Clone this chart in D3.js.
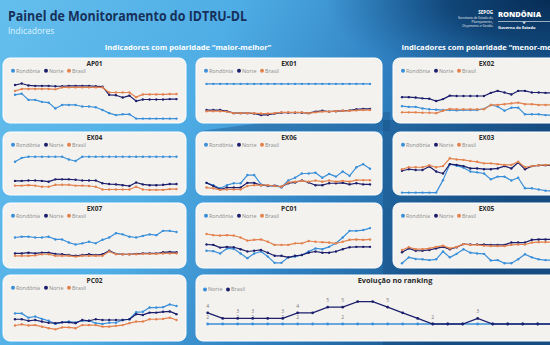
<!DOCTYPE html>
<html>
<head>
<meta charset="utf-8">
<script src="https://cdn.jsdelivr.net/npm/d3@7"></script>
<style>
  html, body { margin: 0; padding: 0; overflow: hidden; }
  body { width: 550px; height: 345px; }
  svg { display: block; font-family: "Open Sans", "DejaVu Sans", sans-serif; }
</style>
</head>
<body>
<svg id="chart" width="550" height="345"></svg>
<script>
// ---- Data ---------------------------------------------------------------
const periods = [1, 2, 3, 4, 5, 6, 7, 8, 9, 10, 11, 12, 13, 14, 15, 16, 17, 18, 19, 20, 21, 22, 23, 24, 25];
const seriesNames = ["Rondônia", "Norte", "Brasil"];
const seriesColors = ["#3a8fd9", "#1d1f6c", "#e3824e"];

// Indicator scores (0–100 index) per period
const ap01Rondonia = [62, 65, 49, 49, 44, 42, 27, 36, 36, 36, 32, 32, 30, 23, 15, 10, 12, 12, 1, 1, 1, 1, 1, 1, 1];
const ap01Norte    = [87, 91, 86, 85, 85, 85, 84, 84, 85, 85, 85, 85, 84, 83, 62, 61, 55, 60, 46, 50, 50, 50, 50, 51, 51];
const ap01Brasil   = [72, 77, 77, 77, 77, 77, 76, 81, 81, 81, 81, 81, 81, 81, 68, 68, 68, 68, 56, 63, 63, 63, 63, 64, 64];

const ex01Rondonia = [90, 90, 90, 90, 90, 90, 90, 90, 90, 90, 90, 90, 90, 90, 90, 90, 90, 90, 90, 90, 90, 90, 90, 90, 90];
const ex01Norte    = [23, 23, 23, 20, 15, 15, 15, 14, 10, 11, 14, 16, 16, 16, 16, 15, 19, 21, 19, 20, 21, 22, 25, 26, 26];
const ex01Brasil   = [20, 20, 20, 19, 15, 15, 15, 15, 14, 14, 15, 17, 17, 17, 17, 15, 17, 19, 19, 20, 21, 21, 22, 23, 23];

const ex02Rondonia = [33, 31, 31, 27, 25, 24, 23, 23, 22, 23, 23, 23, 26, 36, 32, 21, 29, 29, 12, 12, 12, 10, 10, 10, 10];
const ex02Norte    = [56, 56, 55, 53, 52, 46, 51, 60, 59, 59, 59, 59, 59, 67, 72, 68, 63, 72, 72, 68, 68, 67, 67, 67, 67];
const ex02Brasil   = [17, 17, 17, 16, 16, 15, 21, 26, 25, 25, 25, 25, 25, 36, 36, 38, 40, 42, 38, 38, 36, 36, 36, 36, 36];

const ex04Rondonia = [80, 90, 93, 93, 93, 93, 93, 93, 86, 82, 93, 93, 93, 93, 93, 93, 93, 93, 93, 93, 93, 93, 93, 93, 93];
const ex04Norte    = [31, 31, 32, 32, 31, 29, 35, 35, 35, 34, 32, 32, 32, 25, 23, 22, 20, 18, 27, 22, 20, 20, 21, 23, 23];
const ex04Brasil   = [19, 19, 20, 19, 16, 16, 21, 21, 21, 19, 19, 18, 16, 9, 9, 9, 9, 9, 16, 9, 8, 8, 8, 10, 10];

const ex06Rondonia = [26, 20, 12, 20, 25, 25, 46, 46, 22, 18, 19, 14, 32, 39, 50, 50, 52, 39, 49, 42, 55, 44, 66, 74, 62];
const ex06Norte    = [26, 18, 9, 14, 14, 14, 26, 26, 20, 19, 19, 16, 25, 27, 32, 27, 20, 20, 25, 25, 26, 22, 25, 22, 22];
const ex06Brasil   = [14, 12, 8, 9, 9, 9, 18, 20, 20, 20, 18, 16, 27, 29, 31, 29, 32, 29, 32, 29, 31, 29, 33, 33, 33];

const ex03Rondonia = [1, 1, 1, 1, 1, 1, 33, 74, 70, 65, 55, 53, 50, 35, 42, 42, 32, 39, 12, 12, 9, 6, 5, 5, 5];
const ex03Norte    = [57, 61, 59, 59, 68, 55, 50, 74, 72, 69, 63, 63, 61, 61, 63, 69, 63, 78, 61, 69, 71, 71, 71, 71, 71];
const ex03Brasil   = [61, 66, 66, 66, 71, 66, 69, 89, 86, 85, 82, 80, 76, 76, 74, 72, 72, 80, 66, 69, 71, 72, 72, 72, 72];

const ex07Rondonia = [68, 70, 70, 68, 68, 70, 63, 63, 55, 50, 53, 57, 53, 62, 68, 79, 76, 70, 68, 72, 76, 74, 85, 85, 82];
const ex07Norte    = [27, 27, 29, 27, 29, 29, 26, 25, 23, 21, 23, 25, 23, 25, 34, 26, 25, 25, 26, 27, 27, 27, 30, 31, 30];
const ex07Brasil   = [21, 21, 21, 22, 25, 25, 21, 21, 21, 19, 21, 21, 21, 21, 32, 25, 25, 25, 25, 26, 26, 26, 27, 27, 27];

const pc01Rondonia = [34, 33, 27, 40, 39, 27, 15, 27, 32, 19, 3, 3, 17, 19, 23, 32, 40, 38, 44, 53, 68, 85, 85, 87, 92];
const pc01Norte    = [50, 49, 42, 44, 43, 38, 32, 34, 36, 29, 21, 21, 17, 21, 23, 29, 32, 29, 29, 32, 38, 43, 44, 44, 44];
const pc01Brasil   = [77, 74, 73, 74, 73, 68, 60, 62, 63, 57, 49, 49, 49, 53, 53, 59, 57, 56, 55, 53, 57, 62, 63, 62, 63];

const ex05Rondonia = [2, 17, 13, 12, 10, 12, 32, 17, 26, 38, 29, 27, 26, 9, 10, 2, 2, 12, 25, 17, 12, 10, 10, 10, 10];
const ex05Norte    = [30, 40, 34, 34, 36, 40, 44, 38, 43, 51, 50, 50, 50, 49, 49, 49, 55, 55, 55, 62, 63, 63, 63, 63, 63];
const ex05Brasil   = [36, 43, 38, 38, 40, 44, 47, 40, 44, 51, 49, 49, 47, 46, 46, 46, 49, 50, 50, 55, 56, 56, 56, 56, 56];

const pc02Rondonia = [58, 58, 47, 50, 44, 39, 31, 35, 37, 35, 39, 39, 33, 31, 34, 34, 41, 43, 61, 62, 73, 73, 74, 81, 77];
const pc02Norte    = [43, 43, 39, 41, 37, 34, 33, 35, 35, 33, 41, 39, 43, 41, 41, 41, 41, 43, 56, 54, 60, 60, 62, 63, 56];
const pc02Brasil   = [27, 30, 27, 28, 24, 20, 17, 22, 22, 20, 28, 28, 28, 24, 24, 26, 28, 33, 37, 37, 43, 43, 44, 47, 41];

// Ranking evolution
const rankingNames = ["Norte", "Brasil"];
const rankingColors = ["#3a8fd9", "#1d1f6c"];
const rankingNorte  = [2, 2, 2, 2, 2, 2, 2, 2, 2, 2, 2, 2, 2, 2, 2, 2, 2, 2, 2, 2, 2, 2, 2, 2, 2];
const rankingBrasil = [4, 3, 3, 3, 3, 3, 4, 4, 5, 5, 6, 6, 5, 4, 3, 2, 2, 2, 3, 2, 2, 2, 2, 2, 2];
// periods whose value label is shown
const rankingNorteLabels  = [0, 2, 3, 5, 6, 9];
const rankingBrasilLabels = [0, 2, 3, 5, 6, 8, 9, 12, 15, 18];

// ---- Layout -------------------------------------------------------------
const svg = d3.select("#chart");
const W = 550, H = 345;

const colLeft  = [3, 196, 393];
const colWidth = [183, 186, 187];
const colPlotX = [[15, 176.5], [206.5, 370], [402, 566]];
const rowTop    = [58, 132, 203, 275];
const rowHeight = [65, 63, 65, 66];

const panels = [
  { title: "AP01", col: 0, row: 0, values: [ap01Rondonia, ap01Norte, ap01Brasil] },
  { title: "EX01", col: 1, row: 0, values: [ex01Rondonia, ex01Norte, ex01Brasil] },
  { title: "EX02", col: 2, row: 0, values: [ex02Rondonia, ex02Norte, ex02Brasil] },
  { title: "EX04", col: 0, row: 1, values: [ex04Rondonia, ex04Norte, ex04Brasil] },
  { title: "EX06", col: 1, row: 1, values: [ex06Rondonia, ex06Norte, ex06Brasil] },
  { title: "EX03", col: 2, row: 1, values: [ex03Rondonia, ex03Norte, ex03Brasil] },
  { title: "EX07", col: 0, row: 2, values: [ex07Rondonia, ex07Norte, ex07Brasil] },
  { title: "PC01", col: 1, row: 2, values: [pc01Rondonia, pc01Norte, pc01Brasil] },
  { title: "EX05", col: 2, row: 2, values: [ex05Rondonia, ex05Norte, ex05Brasil] },
  { title: "PC02", col: 0, row: 3, values: [pc02Rondonia, pc02Norte, pc02Brasil] }
];

// ---- Background ---------------------------------------------------------
const defs = svg.append("defs");
const bg = defs.append("linearGradient").attr("id", "bg").attr("x1", 0).attr("y1", 0).attr("x2", 1).attr("y2", 0.3);
bg.append("stop").attr("offset", "0%").attr("stop-color", "#65bfed");
bg.append("stop").attr("offset", "40%").attr("stop-color", "#4fade5");
bg.append("stop").attr("offset", "70%").attr("stop-color", "#2f80c0");
bg.append("stop").attr("offset", "100%").attr("stop-color", "#18548c");
svg.append("rect").attr("width", W).attr("height", H).attr("fill", "url(#bg)");

const glow = defs.append("radialGradient").attr("id", "corner")
  .attr("cx", 1).attr("cy", 0).attr("r", 0.75);
glow.append("stop").attr("offset", "0%").attr("stop-color", "#072c55").attr("stop-opacity", 1);
glow.append("stop").attr("offset", "45%").attr("stop-color", "#0c3d6d").attr("stop-opacity", 0.85);
glow.append("stop").attr("offset", "100%").attr("stop-color", "#1a5b96").attr("stop-opacity", 0);
svg.append("rect").attr("x", 250).attr("y", 0).attr("width", 300).attr("height", 120).attr("fill", "url(#corner)");

// darker diagonal bands behind the panels
svg.append("path").attr("d", "M200,131 L300,118 L390,112 L390,131 Z").attr("fill", "#1f5f9a").attr("opacity", 0.5);
svg.append("path").attr("d", "M383,120 L550,120 L550,345 L383,345 Z").attr("fill", "#123f70").attr("opacity", 0.3);

// ---- Header -------------------------------------------------------------
svg.append("text").attr("x", 8).attr("y", 21)
  .attr("font-size", 14).attr("font-weight", 700).attr("fill", "#16305a")
  .attr("textLength", 239).attr("lengthAdjust", "spacingAndGlyphs")
  .text("Painel de Monitoramento do IDTRU-DL");
svg.append("text").attr("x", 8).attr("y", 34)
  .attr("font-size", 8.5).attr("fill", "#dff3ff")
  .text("Indicadores");

// logos
const logo = svg.append("g").attr("fill", "#ffffff");
logo.append("text").attr("x", 493).attr("y", 14).attr("text-anchor", "end")
  .attr("font-size", 4.5).attr("font-weight", 700).text("SEPOG");
["Secretaria de Estado do", "Planejamento,", "Orçamento e Gestão"].forEach((t, i) => {
  logo.append("text").attr("x", 493).attr("y", 19 + i * 4).attr("text-anchor", "end")
    .attr("font-size", 3.2).attr("opacity", 0.9).text(t);
});
logo.append("text").attr("x", 498).attr("y", 17).attr("font-size", 7.5).attr("font-weight", 800).text("RONDÔNIA");
logo.append("line").attr("x1", 498).attr("x2", 550).attr("y1", 21.5).attr("y2", 21.5).attr("stroke", "#ffffff").attr("stroke-width", 0.6);
logo.append("text").attr("x", 524).attr("y", 23.5).attr("text-anchor", "middle").attr("font-size", 4).text("★");
logo.append("text").attr("x", 498).attr("y", 28.5).attr("font-size", 4).attr("font-weight", 700).text("Governo do Estado");

// section headings
svg.append("text").attr("x", 188).attr("y", 50).attr("text-anchor", "middle")
  .attr("font-size", 7.6).attr("font-weight", 700).attr("fill", "#ffffff")
  .text("Indicadores com polaridade \u201Cmaior-melhor\u201D");
svg.append("text").attr("x", 486).attr("y", 50).attr("text-anchor", "middle")
  .attr("font-size", 7.6).attr("font-weight", 700).attr("fill", "#ffffff")
  .text("Indicadores com polaridade \u201Cmenor-melhor\u201D");

// ---- Panel helpers ------------------------------------------------------
function drawCard(x, y, w, h) {
  svg.append("rect").attr("x", x).attr("y", y).attr("width", w).attr("height", h)
    .attr("rx", 7).attr("fill", "#f3f2ef").attr("stroke", "#ffffff").attr("stroke-width", 1);
}

function drawLegend(g, x, y, names, colors, gaps) {
  let cx = x;
  names.forEach((n, i) => {
    g.append("circle").attr("cx", cx).attr("cy", y).attr("r", 2).attr("fill", colors[i]);
    g.append("text").attr("x", cx + 3).attr("y", y + 1.9).attr("font-size", 5.4).attr("fill", "#8c8c8c").text(n);
    cx += gaps[i];
  });
}

// ---- Indicator panels ---------------------------------------------------
panels.forEach(p => {
  const L = colLeft[p.col], T = rowTop[p.row], PW = colWidth[p.col], PH = rowHeight[p.row];
  drawCard(L, T, PW, PH);
  const g = svg.append("g");
  g.append("text").attr("x", L + PW / 2).attr("y", T + 7.5).attr("text-anchor", "middle")
    .attr("font-size", 6.6).attr("font-weight", 700).attr("fill", "#2b2b2b").text(p.title);
  drawLegend(g, L + 10, T + 12.8, seriesNames, seriesColors, [33, 23]);

  const x = d3.scalePoint().domain(periods).range(colPlotX[p.col]);
  const y = d3.scaleLinear().domain([0, 100]).range([T + 61, T + 22]);
  const line = d3.line().x((d, i) => x(periods[i])).y(d => y(d));

  p.values.forEach((vals, s) => {
    g.append("path").datum(vals).attr("d", line)
      .attr("fill", "none").attr("stroke", seriesColors[s]).attr("stroke-width", 1.2)
      .attr("stroke-linejoin", "round");
    g.selectAll(null).data(vals).enter().append("circle")
      .attr("cx", (d, i) => x(periods[i])).attr("cy", d => y(d))
      .attr("r", 1.2).attr("fill", seriesColors[s]);
  });
});

// ---- Ranking panel ------------------------------------------------------
(function () {
  const L = 196, T = 275, PW = 398, PH = 66;
  drawCard(L, T, PW, PH);
  const g = svg.append("g");
  g.append("text").attr("x", L + PW / 2).attr("y", T + 8).attr("text-anchor", "middle")
    .attr("font-size", 7.4).attr("font-weight", 700).attr("fill", "#2b2b2b").text("Evolução no ranking");
  drawLegend(g, L + 9, T + 14.5, rankingNames, rankingColors, [23]);

  const x = d3.scalePoint().domain(periods).range([207.7, 567.7]);
  const y = d3.scaleLinear().domain([2, 6]).range([324, 301.6]);
  const line = d3.line().x((d, i) => x(periods[i])).y(d => y(d));
  const series = [rankingNorte, rankingBrasil];
  const shown = [rankingNorteLabels, rankingBrasilLabels];

  series.forEach((vals, s) => {
    g.append("path").datum(vals).attr("d", line)
      .attr("fill", "none").attr("stroke", rankingColors[s]).attr("stroke-width", 1.3);
    g.selectAll(null).data(vals).enter().append("circle")
      .attr("cx", (d, i) => x(periods[i])).attr("cy", d => y(d))
      .attr("r", 1.4).attr("fill", rankingColors[s]);
    g.selectAll(null).data(shown[s]).enter().append("text")
      .attr("x", i => x(periods[i])).attr("y", i => y(vals[i]) - 5)
      .attr("text-anchor", "middle").attr("font-size", 5).attr("fill", "#7a7a7a")
      .text(i => vals[i]);
  });
})();
</script>
</body>
</html>
